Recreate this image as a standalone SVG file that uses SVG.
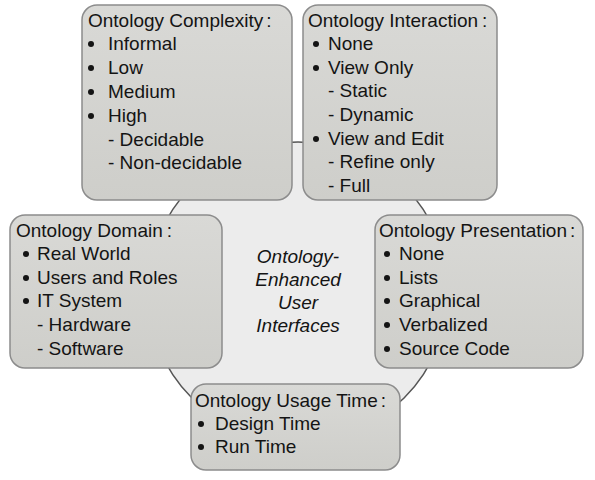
<svg xmlns="http://www.w3.org/2000/svg" width="595" height="480" viewBox="0 0 595 480">
<defs>
<linearGradient id="bg" x1="0" y1="0" x2="0" y2="1">
<stop offset="0" stop-color="#d9d9d6"/>
<stop offset="1" stop-color="#cececa"/>
</linearGradient>
</defs>
<style>
.box{fill:url(#bg);stroke:#8c8c8c;stroke-width:1.5}
.t{font-family:"Liberation Sans",Arial,sans-serif;font-size:19px;fill:#141414}
.c{font-family:"Liberation Sans",Arial,sans-serif;font-size:19px;font-style:italic;fill:#141414;text-anchor:middle}
.b{fill:#141414}
</style>
<rect width="595" height="480" fill="#ffffff"/>
<g id="connectors">
<circle cx="298" cy="292" r="150" fill="#ececec" stroke="#555555" stroke-width="1.5"/>
</g>
<g id="center">
<text class="c" x="298" y="263">Ontology-</text>
<text class="c" x="298" y="286">Enhanced</text>
<text class="c" x="298" y="309">User</text>
<text class="c" x="298" y="332">Interfaces</text>
</g>
<g id="complexity">
<rect class="box" x="82" y="5" width="210" height="195" rx="15"/>
<text class="t" x="88" y="27">Ontology Complexity<tspan dx="3">:</tspan></text>
<circle class="b" cx="91" cy="44" r="3"/>
<text class="t" x="108" y="50">Informal</text>
<circle class="b" cx="91" cy="68" r="3"/>
<text class="t" x="108" y="74">Low</text>
<circle class="b" cx="91" cy="92" r="3"/>
<text class="t" x="108" y="98">Medium</text>
<circle class="b" cx="91" cy="116" r="3"/>
<text class="t" x="108" y="122">High</text>
<text class="t" x="108" y="146">- Decidable</text>
<text class="t" x="108" y="169">- Non-decidable</text>
</g>
<g id="interaction">
<rect class="box" x="303" y="5" width="194" height="195" rx="15"/>
<text class="t" x="308" y="27">Ontology Interaction<tspan dx="4">:</tspan></text>
<circle class="b" cx="316" cy="44" r="3"/>
<text class="t" x="328" y="50">None</text>
<circle class="b" cx="316" cy="68" r="3"/>
<text class="t" x="328" y="74">View Only</text>
<text class="t" x="328" y="97">- Static</text>
<text class="t" x="328" y="121">- Dynamic</text>
<circle class="b" cx="316" cy="139" r="3"/>
<text class="t" x="328" y="145">View and Edit</text>
<text class="t" x="328" y="168">- Refine only</text>
<text class="t" x="328" y="192">- Full</text>
</g>
<g id="domain">
<rect class="box" x="10" y="215" width="212" height="153" rx="15"/>
<text class="t" x="16" y="237">Ontology Domain<tspan dx="4">:</tspan></text>
<circle class="b" cx="26" cy="254" r="3"/>
<text class="t" x="37" y="260">Real World</text>
<circle class="b" cx="26" cy="278" r="3"/>
<text class="t" x="37" y="284">Users and Roles</text>
<circle class="b" cx="26" cy="301" r="3"/>
<text class="t" x="37" y="307">IT System</text>
<text class="t" x="37" y="331">- Hardware</text>
<text class="t" x="37" y="355">- Software</text>
</g>
<g id="presentation">
<rect class="box" x="375" y="215" width="208" height="153" rx="15"/>
<text class="t" x="379" y="237">Ontology Presentation<tspan dx="3">:</tspan></text>
<circle class="b" cx="387" cy="254" r="3"/>
<text class="t" x="399" y="260">None</text>
<circle class="b" cx="387" cy="278" r="3"/>
<text class="t" x="399" y="284">Lists</text>
<circle class="b" cx="387" cy="301" r="3"/>
<text class="t" x="399" y="307">Graphical</text>
<circle class="b" cx="387" cy="325" r="3"/>
<text class="t" x="399" y="331">Verbalized</text>
<circle class="b" cx="387" cy="349" r="3"/>
<text class="t" x="399" y="355">Source Code</text>
</g>
<g id="usage">
<rect class="box" x="191" y="384" width="209" height="86" rx="15"/>
<text class="t" x="195" y="407">Ontology Usage Time<tspan dx="3">:</tspan></text>
<circle class="b" cx="201" cy="424" r="3"/>
<text class="t" x="215" y="430">Design Time</text>
<circle class="b" cx="201" cy="447" r="3"/>
<text class="t" x="215" y="453">Run Time</text>
</g>
</svg>
